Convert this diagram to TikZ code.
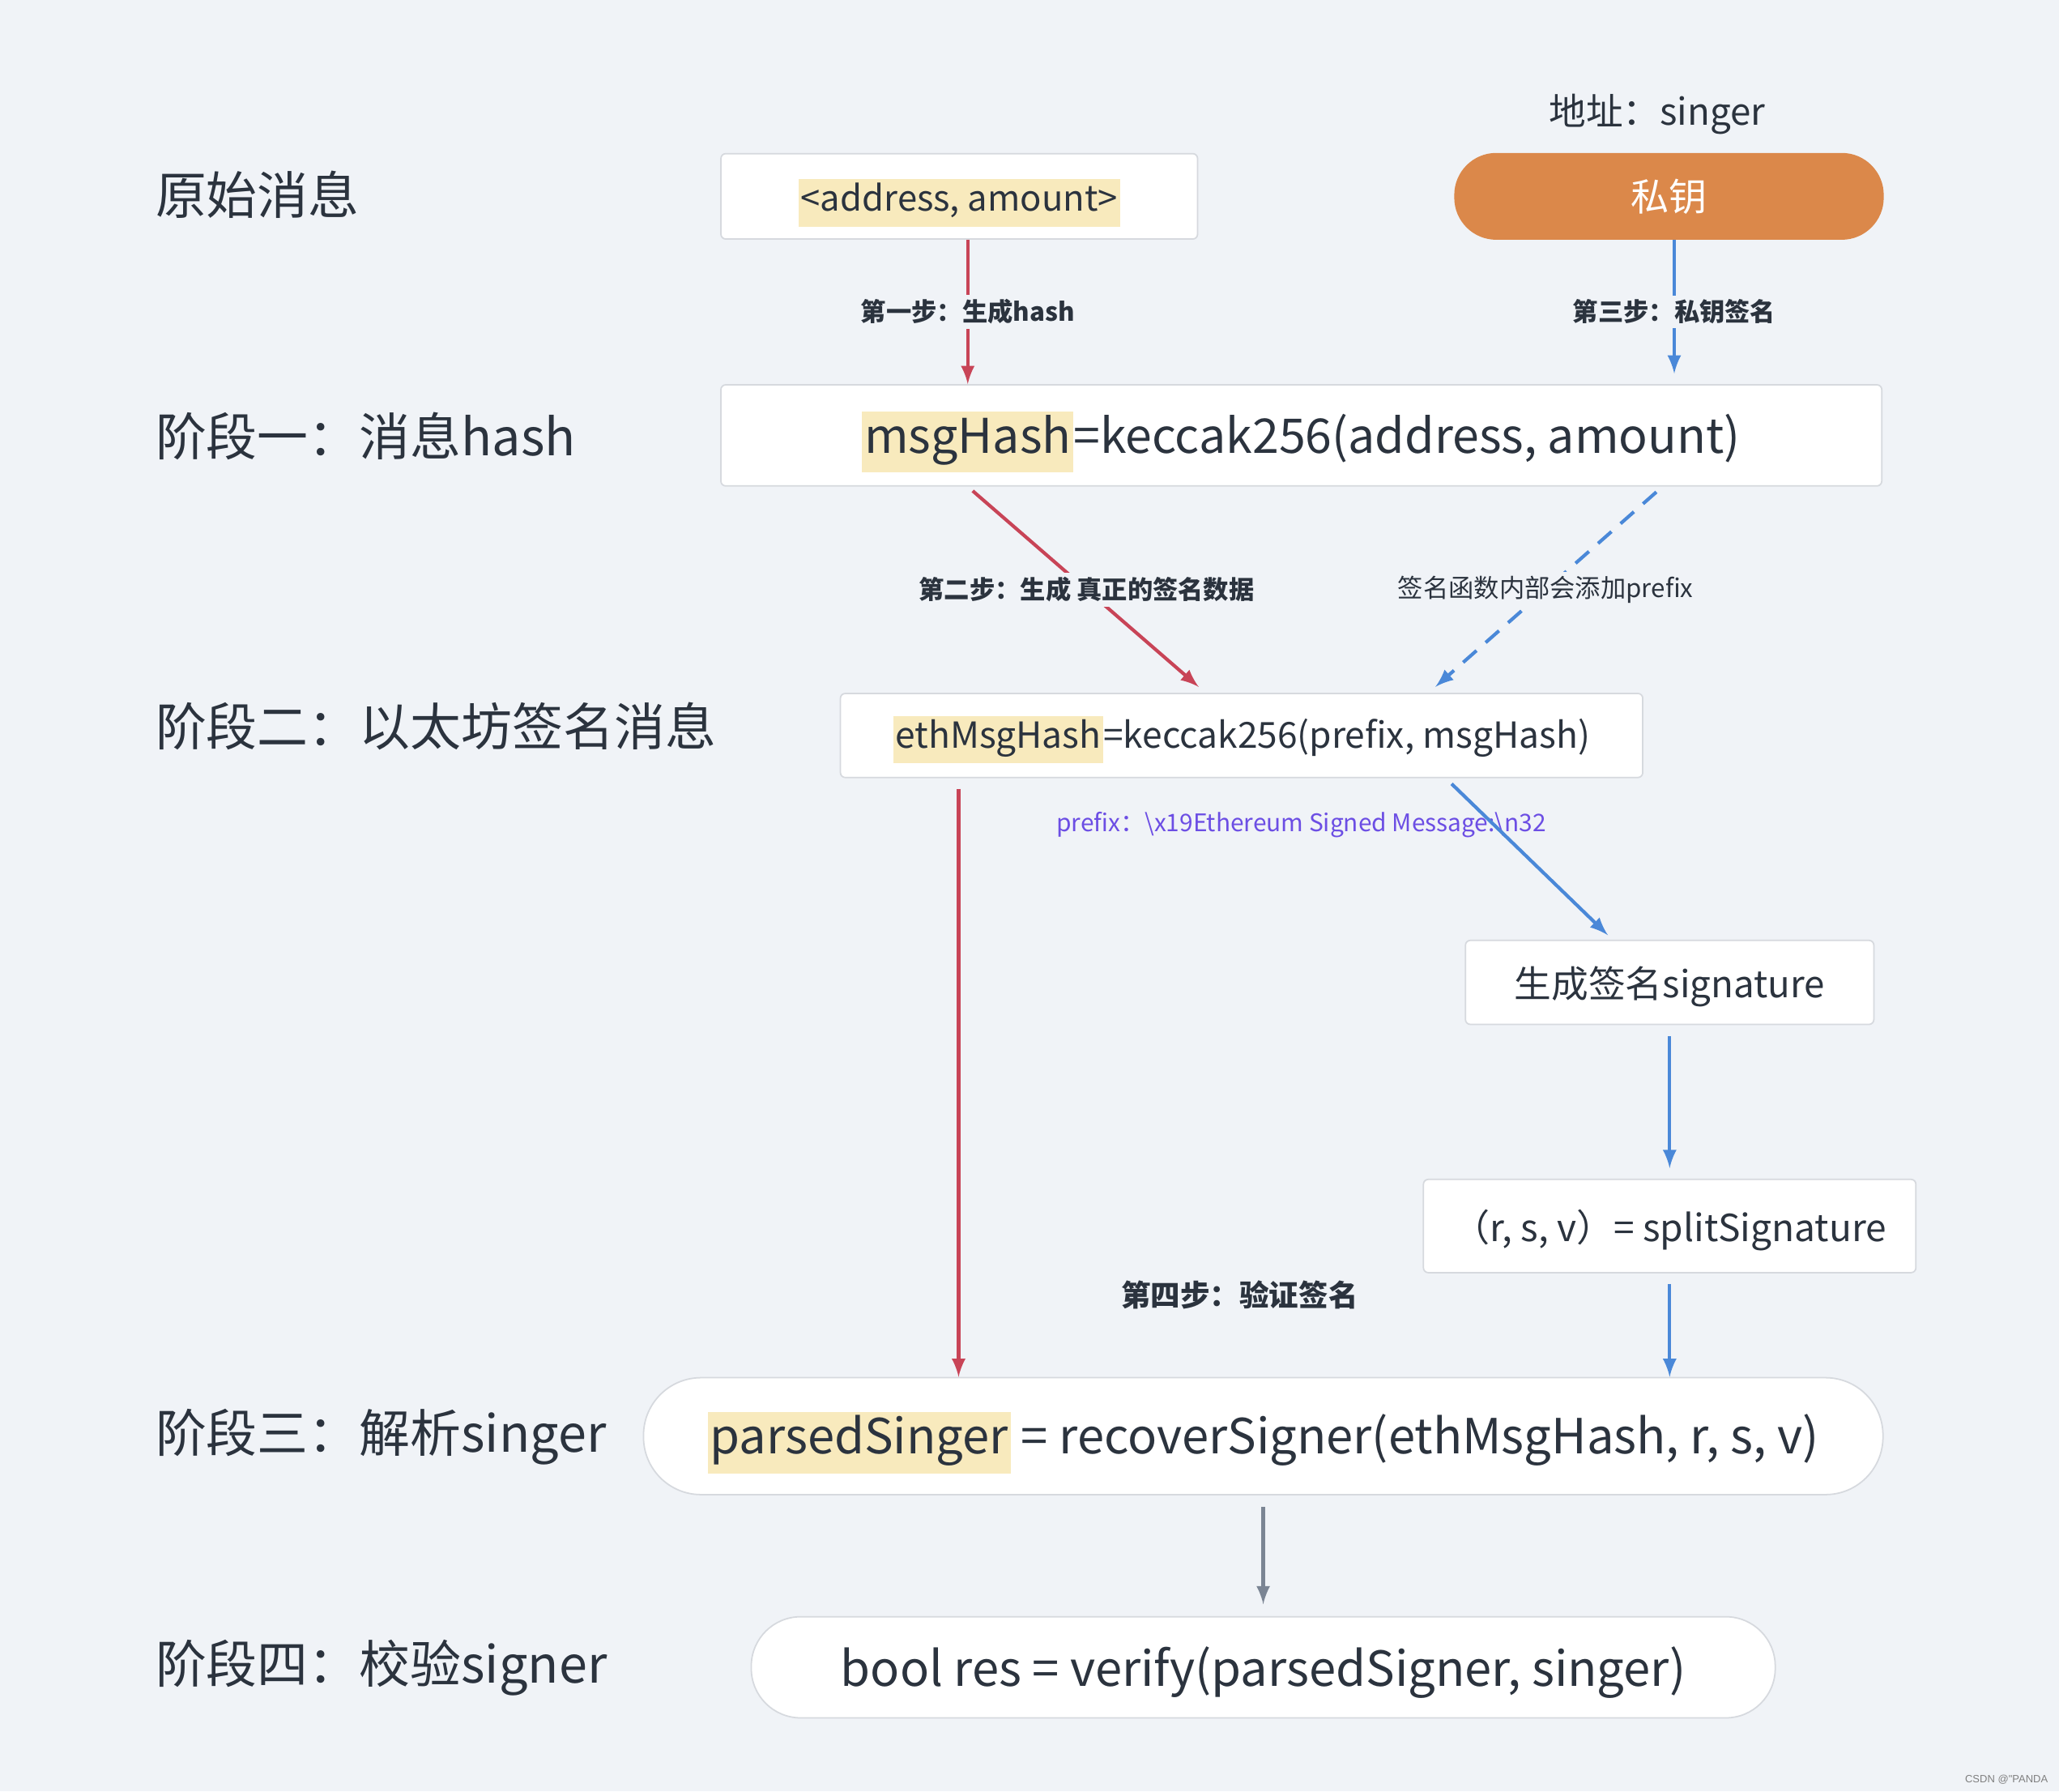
\documentclass[tikz,border=0pt]{standalone}
\usepackage{fontspec}
\setmainfont{Noto Sans CJK SC}
\newfontfamily\markfont{Liberation Sans}
\usepackage{tikz}
\usetikzlibrary{arrows}

\definecolor{bgcol}{HTML}{F0F3F7}
\definecolor{ink}{HTML}{2B333E}
\definecolor{cardline}{HTML}{D6D9DE}
\definecolor{keyorange}{HTML}{DB884A}
\definecolor{redline}{HTML}{C84457}
\definecolor{blueline}{HTML}{4A88D8}
\definecolor{grayline}{HTML}{7B8594}
\definecolor{prefixcol}{HTML}{6C4EE4}
\definecolor{hlcol}{HTML}{F8EABD}

\newcommand{\hilite}[1]{{\setlength{\fboxsep}{0.8pt}\colorbox{hlcol}{\strut #1}}}
% push box text down a little, keep the box where it is
\newcommand{\dn}[2][2pt]{\raisebox{-#1}[\height][\depth]{#2}}

\tikzset{
	card/.style={draw=cardline, line width=0.5pt, fill=white, rounded corners=0.6mm, inner sep=0pt, text=ink},
	pillbox/.style={card, rounded corners=#1},
	stage/.style={anchor=west, inner sep=0pt, text=ink, font=\fontsize{17.9}{21}\selectfont},
	steplabel/.style={fill=bgcol, inner sep=1.5pt, text=ink, font=\bfseries\fontsize{8.9}{10}\selectfont},
	redarrow/.style={draw=redline, line width=1.2pt, -latex},
	bluearrow/.style={draw=blueline, line width=1.2pt, -latex},
	grayarrow/.style={draw=grayline, line width=1.2pt, -latex}
}

\begin{document}
\begin{tikzpicture}[x=0.1621mm,y=0.1621mm,yscale=-1]
	\path[use as bounding box, fill=bgcol] (0,0) rectangle (1568,1364);
	
	\node[stage] (stage0) at (118,148) {原始消息};
	\node[stage] (stage1) at (118,332) {阶段一：消息hash};
	\node[stage] (stage2) at (118,553) {阶段二：以太坊签名消息};
	\node[stage] (stage3) at (118,1094) {阶段三：解析singer};
	\node[stage] (stage4) at (118,1270) {阶段四：校验signer};
	
	\node[text=ink, font=\fontsize{13}{15}\selectfont] (addr) at (1262,87) {地址：singer};
	
	\node[card, minimum width=58.84mm, minimum height=10.54mm, font=\fontsize{12.4}{15}\selectfont] (rawmsg) at (730.5,149.5) {\dn[2.3pt]{\hilite{<address, amount>}}};
	\node[pillbox=5.1mm, draw=keyorange, fill=keyorange, text=white, minimum width=52.84mm, minimum height=10.54mm, font=\fontsize{13.4}{16}\selectfont] (privkey) at (1271,149.5) {私钥};
	
	\node[card, minimum width=143.3mm, minimum height=12.48mm, font=\fontsize{16.8}{19.5}\selectfont] (msgbox) at (991,331.5) {\dn[2.3pt]{\hilite{msgHash}=keccak256(address, amount)}};
	\node[card, minimum width=99.04mm, minimum height=10.37mm, font=\fontsize{12.6}{15}\selectfont] (ethbox) at (945.5,560) {\dn[1.4pt]{\hilite{ethMsgHash}=keccak256(prefix, msgHash)}};
	\node[card, minimum width=50.41mm, minimum height=10.37mm, font=\fontsize{13}{15.5}\selectfont] (sigbox) at (1271.5,748) {\dn[1.4pt]{生成签名signature}};
	\node[card, minimum width=60.79mm, minimum height=11.51mm, font=\fontsize{13.1}{15.5}\selectfont] (splitbox) at (1271.5,933.5) {\dn[1.4pt]{（r, s, v）= splitSignature}};
	\node[pillbox=7.1mm, minimum width=153.0mm, minimum height=14.43mm, font=\fontsize{17}{20}\selectfont] (recover) at (962,1093.5) {\dn[2.3pt]{\hilite{parsedSinger} = recoverSigner(ethMsgHash, r, s, v)}};
	\node[pillbox=6.1mm, minimum width=126.4mm, minimum height=12.48mm, font=\fontsize{17}{20}\selectfont] (verify) at (962,1269.5) {\dn[1.9pt]{bool res = verify(parsedSigner, singer)}};
	
	\node[text=prefixcol, font=\fontsize{8.5}{10}\selectfont] (prefixnote) at (991,628) {prefix：\textbackslash x19Ethereum Signed Message:\textbackslash n32};
	\node[text=ink, font=\bfseries\fontsize{10.4}{12}\selectfont] (step4) at (944,986) {第四步：验证签名};
	
	\draw[redarrow] ([xshift=1.05mm]rawmsg.south) -- node[steplabel] {第一步：生成hash} ([xshift=1.05mm]rawmsg.south |- msgbox.north);
	\draw[bluearrow, shorten >=1.3mm] ([xshift=0.65mm]privkey.south) -- node[steplabel] {第三步：私钥签名} ([xshift=0.65mm]privkey.south |- msgbox.north);
	\draw[redarrow, shorten <=0.8mm, shorten >=1.1mm] ([xshift=-41.17mm]msgbox.south) -- node[steplabel] {第二步：生成 真正的签名数据} ([xshift=-4.46mm]ethbox.north);
	\draw[bluearrow, dash pattern=on 2.2mm off 1.5mm, shorten <=1mm, shorten >=1.1mm] ([xshift=44.58mm]msgbox.south) -- node[steplabel, font=\fontsize{8.9}{10}\selectfont] {签名函数内部会添加prefix} ([xshift=23.1mm]ethbox.north);
	\draw[bluearrow, shorten <=1mm, shorten >=0.8mm] ([xshift=25.21mm]ethbox.south) -- ([xshift=-7.05mm]sigbox.north);
	\draw[redarrow, shorten <=1.3mm] ([xshift=-34.93mm]ethbox.south) -- ([xshift=-34.93mm]ethbox.south |- recover.north);
	\draw[bluearrow, shorten <=1.4mm, shorten >=1.3mm] (sigbox.south) -- (splitbox.north);
	\draw[bluearrow, shorten <=1.3mm] (splitbox.south) -- (splitbox.south |- recover.north);
	\draw[grayarrow, shorten <=1.45mm, shorten >=1.45mm] (recover.south) -- (verify.north);
	
	\node[text=gray, font=\markfont\fontsize{3.7}{4}\selectfont] (mark) at (1528,1355) {CSDN @"PANDA};
\end{tikzpicture}
\end{document}
